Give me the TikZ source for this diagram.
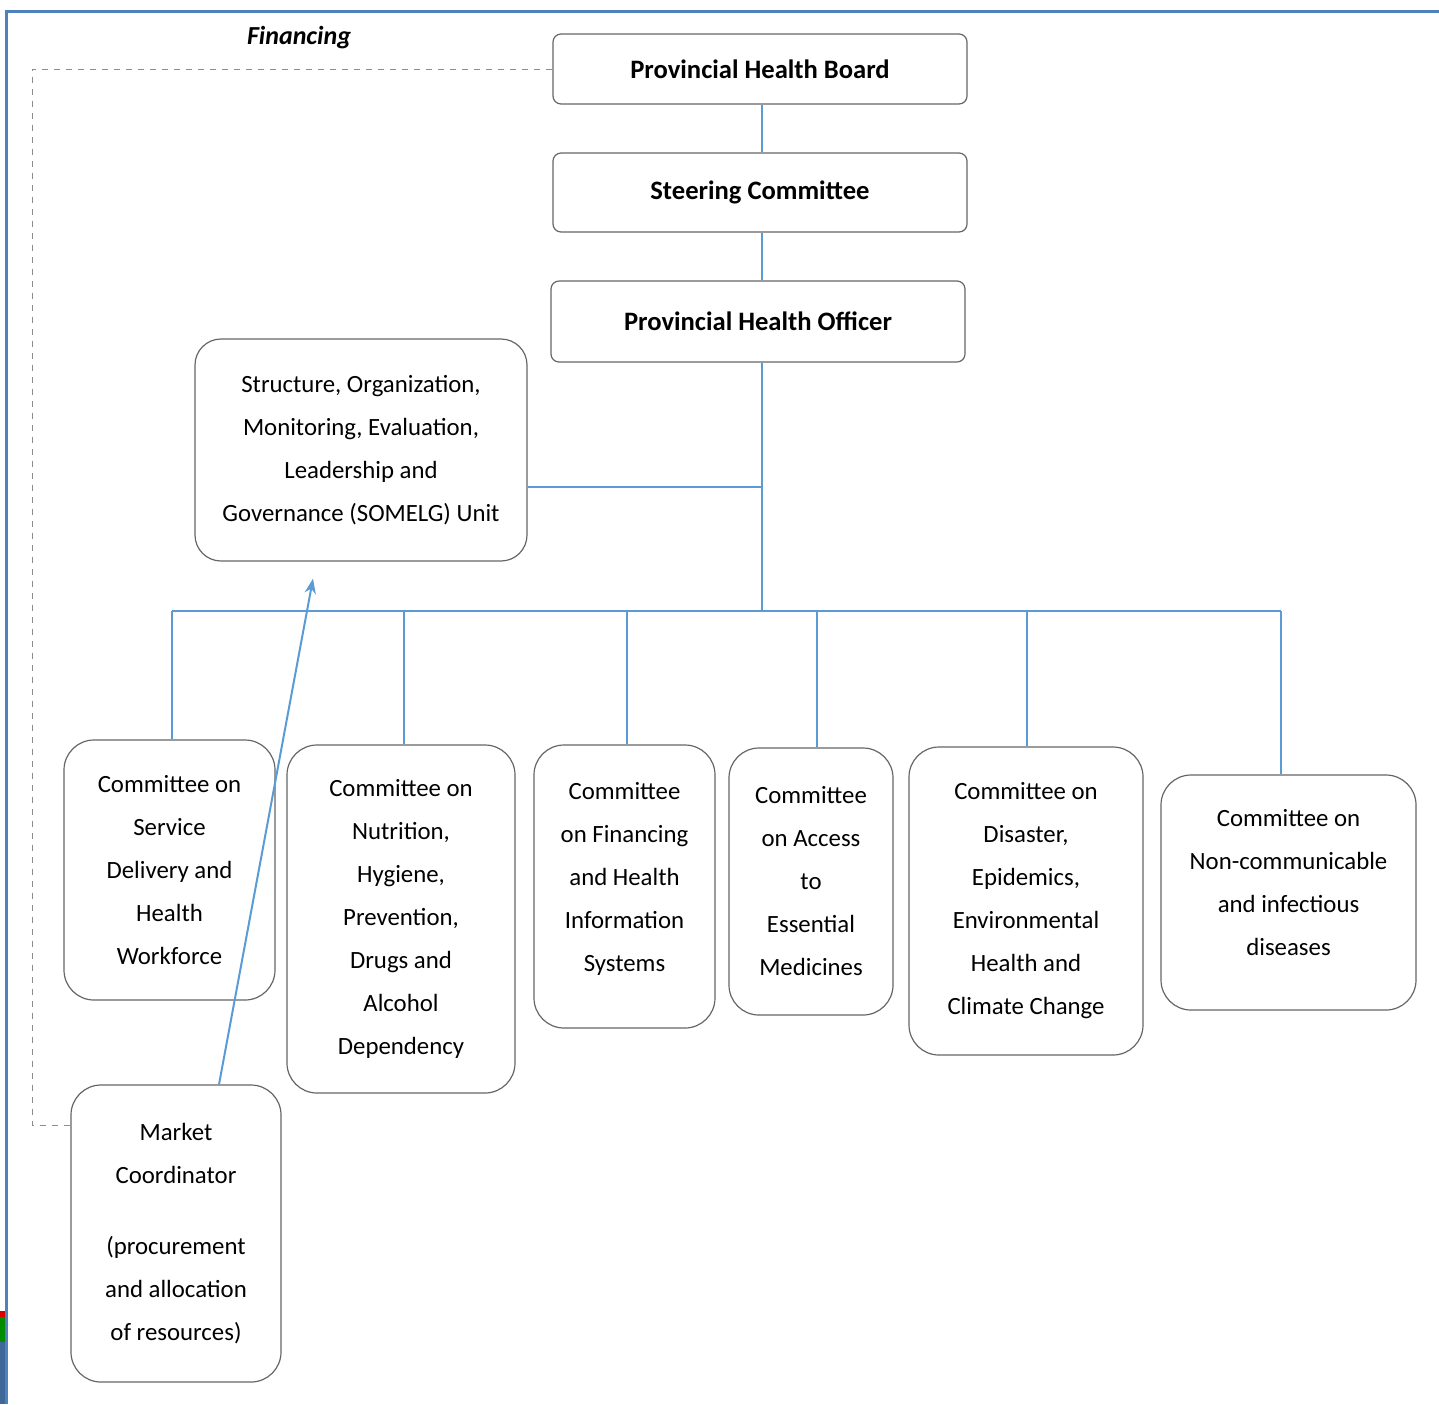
\documentclass[tikz,border=0pt]{standalone}
\usepackage{fontspec}
\setmainfont{Carlito}
\usepackage{tikz}
\usetikzlibrary{positioning,arrows.meta,calc}
\definecolor{linkblue}{HTML}{5B9BD5}
\definecolor{frameblue}{HTML}{4F81BD}

\begin{document}
\begin{tikzpicture}[
  x=0.5pt, y=-0.5pt,
  >=Stealth,
  box/.style={draw=black!60, line width=0.6pt, align=center, inner sep=2pt},
  head/.style={box, rounded corners=4pt, minimum width=207pt, font=\fontsize{13.3}{16}\selectfont\bfseries},
  unit/.style={box, rounded corners=13pt, font=\fontsize{12.4}{21.5}\selectfont},
  cmte/.style={box, rounded corners=15pt, font=\fontsize{12.4}{21.5}\selectfont},
  link/.style={draw=linkblue, line width=1pt},
  flow/.style={->, draw=linkblue, line width=1pt},
  fin/.style={draw=black!45, dashed, line width=0.5pt},
  lbl/.style={font=\fontsize{13}{15}\selectfont\bfseries\itshape, inner sep=1pt}
]
\useasboundingbox (0,0) rectangle (1439,1404);
% ---------------- frame ----------------
\draw[frameblue, line width=1.5pt] (6,1404) -- (6,11) -- (1439,11);
\fill[red!85!black] (0,1311) rectangle (5,1317);
\fill[green!55!black] (0,1317) rectangle (5,1342);
\fill[frameblue!80!black] (0,1342) rectangle (5,1404);

% ---------------- top chain ----------------
\node[head, minimum height=35pt] (phb) at (760,69) {Provincial Health Board};
\node[head, minimum height=39.5pt] (sc) at (760,192.5) {Steering Committee};
\node[head, minimum height=40.5pt] (pho) at (758,321.5) {Provincial Health Officer};
\node[unit, minimum width=166pt, minimum height=111pt] (somelg) at (361,450)
  {Structure, Organization,\\Monitoring, Evaluation,\\Leadership and\\Governance (SOMELG) Unit};

% ---------------- committees ----------------
\node[cmte, minimum width=105.5pt, minimum height=130pt] (c1) at (169.5,870)
  {Committee on\\Service\\Delivery and\\Health\\Workforce};
\node[cmte, minimum width=114pt, minimum height=174pt] (c2) at (401,919)
  {Committee on\\Nutrition,\\Hygiene,\\Prevention,\\Drugs and\\Alcohol\\Dependency};
\node[cmte, minimum width=90.5pt, minimum height=141.5pt, text depth=10pt] (c3) at (624.5,886.5)
  {Committee\\on Financing\\and Health\\Information\\Systems};
\node[cmte, minimum width=82pt, minimum height=133.5pt] (c4) at (811,881.5)
  {Committee\\on Access\\to\\Essential\\Medicines};
\node[cmte, minimum width=117pt, minimum height=154pt] (c5) at (1026,901)
  {Committee on\\Disaster,\\Epidemics,\\Environmental\\Health and\\Climate Change};
\node[cmte, minimum width=127.5pt, minimum height=117.5pt, text depth=10pt] (c6) at (1288.5,892.5)
  {Committee on\\Non-communicable\\and infectious\\diseases};
\node[cmte, minimum width=105pt, minimum height=148.5pt] (mc) at (176,1233.5)
  {Market\\Coordinator\\[14pt](procurement\\and allocation\\of resources)};

% ---------------- connectors ----------------
\coordinate (bus) at (762,611);
\coordinate (busL) at (172,611);
\coordinate (busR) at (1281,611);
\draw[link] (phb.south -| bus) -- (sc.north -| bus);
\draw[link] (sc.south -| bus) -- (pho.north -| bus);
\draw[link] (pho.south -| bus) -- (bus);
\draw[link] (somelg.east |- 0,487) -- (bus |- 0,487);
\draw[link] (busL) -- (busR);
\foreach \c/\x in {c1/172, c2/404, c3/627, c4/817, c5/1027, c6/1281}
  \draw[link] (\x,611) -- (\c.north -| \x,0);
\draw[flow] ([xshift=21.5pt]mc.north) -- ([xshift=-24pt,yshift=-8.5pt]somelg.south);

% financing loop
\coordinate (fincorner) at (32,1125);
\draw[fin] (phb.west) -| (fincorner) -- (fincorner -| mc.west);
\node[lbl] (finlbl) at (299,38) {Financing};
\end{tikzpicture}
\end{document}
